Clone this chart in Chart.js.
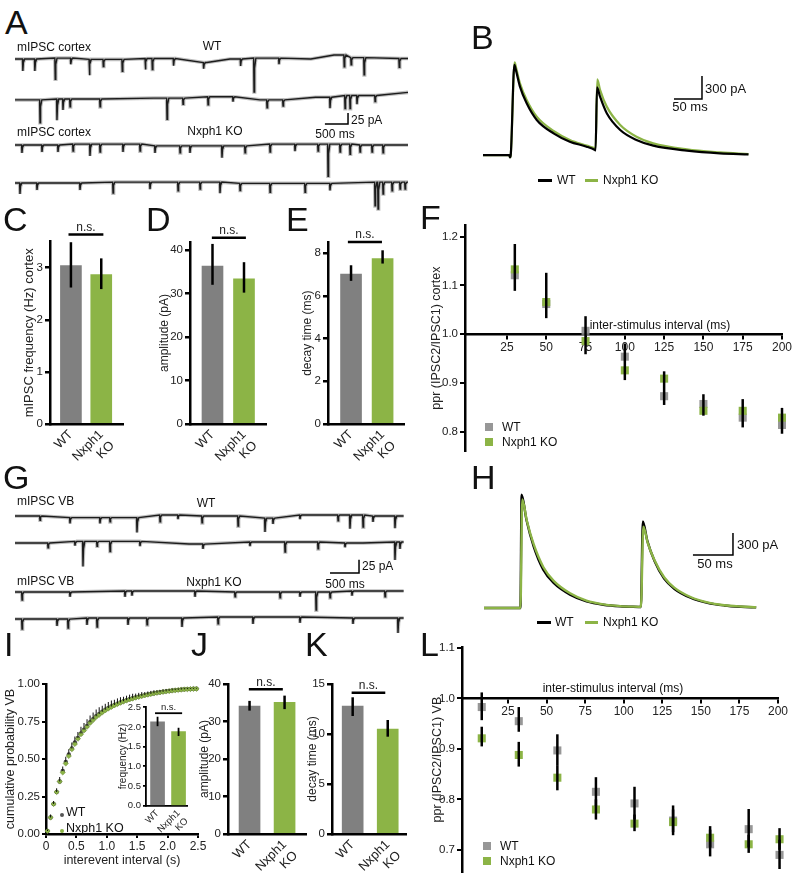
<!DOCTYPE html>
<html><head><meta charset="utf-8">
<script src="https://cdn.jsdelivr.net/npm/chart.js@4.4.1/dist/chart.umd.min.js"></script>
<style>
html,body{margin:0;padding:0;background:#fff;}
#fig{position:relative;width:793px;height:878px;overflow:hidden;background:#fff;font-family:"Liberation Sans",Arial,Helvetica,sans-serif;color:#111;}
.t{position:absolute;white-space:nowrap;}
canvas{position:absolute;}
.sw{position:absolute;}
</style></head><body><div id="fig"></div>
<script>
// ================= DATA =================
const groups = ['WT', 'Nxph1 KO'];

// A: mIPSC cortex traces. events: [time ms, amplitude pA]; drift: [time ms, baseline pA]
const A_WT1_events = [[170,27],[430,27],[870,48],[1210,14],[1610,36],[1910,16],[2320,27],[2820,25],[2970,25],[3430,16],[4080,14],[4880,16],[5170,77],[5710,14],[7120,27],[7270,16],[7550,39],[8310,20]];
const A_WT1_drift = [[0,0],[1200,2],[2000,-1],[3300,1],[4150,-8],[4650,0],[5500,2],[6400,0],[6900,9],[7400,3],[8500,1]];
const A_WT2_events = [[541,52],[908,48],[1038,25],[1190,18],[1839,18],[3288,48],[3634,14],[4175,18],[4715,11],[5451,18],[5797,14],[6813,25],[7138,30],[7246,30],[7397,20],[7787,14]];
const A_WT2_drift = [[0,-2],[1500,0],[3000,2],[4500,5],[5300,-2],[6500,4],[7500,8],[8500,15]];
const A_KO1_events = [[151,18],[584,16],[930,16],[1255,16],[1622,27],[1839,18],[2336,18],[2704,16],[3028,16],[3569,16],[3785,16],[4477,27],[4975,16],[5516,18],[6056,16],[6554,16],[6770,73],[7030,18],[7246,23],[7462,16],[7722,16],[7960,18]];
const A_KO1_drift = [[0,0],[2000,2],[4000,-2],[6000,2],[8500,0]];
const A_KO2_events = [[108,25],[476,16],[1406,16],[2120,25],[2920,16],[3526,20],[4002,16],[4434,25],[4867,16],[5516,20],[6273,20],[6813,16],[7787,54],[7852,61],[7960,27],[8155,20],[8328,16],[8436,16]];
const A_KO2_drift = [[0,0],[3000,2],[6000,-1],[8500,2]];

// B: evoked IPSC pair, cortex (time ms, current pA)
const B_time_WT = [0,47,48,49.5,56,59,66,78,96,126,155,185,200,201,203.6,209,221,245,274,304,364,423,474];
const B_WT      = [0,0,-30,0,1174,1100,892,674,457,283,174,109,65,60,883,760,544,326,196,122,57,22,9];
const B_time_KO = [0,47,48,49.5,56.5,59,66,78,96,126,155,185,200,201,204,209,221,245,274,304,364,423,474];
const B_KO      = [0,0,-30,0,1209,1140,935,718,500,313,196,122,87,82,987,850,631,392,239,152,74,35,13];

// C, D, E: cortex mIPSC properties (mean, SEM range)
const C_freq = [3.04, 2.87], C_lo = [2.62, 2.59], C_hi = [3.49, 3.18];
const D_amp  = [36.3, 33.4], D_lo = [32.0, 30.2], D_hi = [41.4, 37.2];
const E_decay= [7.02, 7.74], E_lo = [6.70, 7.51], E_hi = [7.43, 8.13];

// F: paired-pulse ratio, cortex
const F_isi = [30, 50, 75, 100, 125, 150, 175, 200];
const F_WT  = [1.121, 1.062, 1.007, 0.954, 0.873, 0.857, 0.829, 0.814];
const F_KO  = [1.133, 1.066, 0.986, 0.926, 0.909, 0.843, 0.843, 0.829];
const F_lo  = [1.089, 1.033, 0.959, 0.906, 0.855, 0.833, 0.809, 0.796];
const F_hi  = [1.185, 1.126, 1.037, 0.981, 0.924, 0.877, 0.867, 0.849];
const F_xticks = [25, 50, 75, 100, 125, 150, 175, 200];
const F_yticks = [0.8, 0.9, 1.0, 1.1, 1.2];

// G: mIPSC VB traces
const G_WT1_events = [[431,8],[948,11],[1465,11],[1638,8],[2103,28],[2500,13],[2810,8],[3224,13],[3845,19],[4310,26],[4448,11],[4913,8],[5569,11],[5775,26],[6000,23],[6172,11],[6551,23]];
const G_WT1_drift = [[0,0],[1750,-3],[2650,2],[3500,0],[4400,-4],[5400,2],[6700,0]];
const G_WT2_events = [[569,9],[1034,8],[1172,47],[1414,9],[1638,19],[2155,9],[3241,9],[4051,8],[4655,19],[5224,13],[5689,8],[6551,34],[6637,13]];
const G_WT2_drift = [[0,0],[1500,3],[3000,-2],[4500,2],[6000,0],[6700,2]];
const G_KO1_events = [[121,15],[948,9],[1896,11],[2017,9],[3103,11],[3793,9],[4569,11],[4913,9],[5190,34],[5431,11],[5810,9],[6379,11]];
const G_KO1_drift = [[0,0],[2400,2],[4200,0],[6700,2]];
const G_KO2_events = [[121,19],[724,13],[914,17],[1241,13],[1414,17],[1948,13],[2276,13],[2879,17],[3500,13],[4103,13],[4913,11],[5827,11],[6603,28]];
const G_KO2_drift = [[0,-2],[2100,0],[4000,2],[6700,0]];

// H: evoked IPSC pair, VB
const H_time_WT = [0,44,45.5,47,53,62,74,87,107.5,128,149,170,193,196,198.4,204,213,225,238,258,279,300,321,340];
const H_WT      = [0,0,0,1545,1204,841,523,341,182,91,45,23,14,13,1182,915,640,400,260,140,70,35,17,8];
const H_time_KO = [0,44,45.5,47.8,53.5,62,74,87,107.5,128,149,170,193,196,199,204.5,213,225,238,258,279,300,321,340];
const H_KO      = [0,0,0,1480,1190,870,560,370,200,100,50,26,16,15,1110,890,650,420,275,150,76,38,20,10];

// I: cumulative probability of interevent intervals, VB
const I_interval = [0.025,0.075,0.125,0.175,0.225,0.275,0.325,0.375,0.425,0.475,0.525,0.575,0.625,0.675,0.725,0.775,0.825,0.875,0.925,0.975,1.025,1.075,1.125,1.175,1.225,1.275,1.325,1.375,1.425,1.475,1.525,1.575,1.625,1.675,1.725,1.775,1.825,1.875,1.925,1.975,2.025,2.075,2.125,2.175,2.225,2.275,2.325,2.375,2.425,2.475];
const I_WT = [0.02,0.11,0.20,0.28,0.35,0.42,0.48,0.53,0.57,0.61,0.64,0.67,0.695,0.72,0.745,0.765,0.785,0.80,0.815,0.828,0.84,0.85,0.86,0.869,0.877,0.885,0.892,0.899,0.905,0.911,0.916,0.921,0.926,0.93,0.934,0.938,0.942,0.945,0.948,0.951,0.954,0.957,0.959,0.961,0.963,0.965,0.966,0.967,0.968,0.969];
const I_KO = [0.02,0.11,0.20,0.28,0.35,0.41,0.47,0.52,0.565,0.60,0.635,0.665,0.69,0.715,0.74,0.76,0.78,0.795,0.81,0.824,0.836,0.847,0.857,0.866,0.875,0.883,0.89,0.897,0.903,0.909,0.914,0.919,0.924,0.929,0.933,0.937,0.941,0.944,0.947,0.95,0.953,0.956,0.958,0.96,0.962,0.964,0.965,0.966,0.967,0.968];
const I_sem = [0.01,0.02,0.02,0.025,0.03,0.03,0.035,0.035,0.04,0.04,0.04,0.045,0.045,0.045,0.045,0.045,0.045,0.045,0.04,0.04,0.04,0.04,0.035,0.035,0.035,0.03,0.03,0.03,0.03,0.025,0.025,0.025,0.02,0.02,0.02,0.02,0.015,0.015,0.015,0.015,0.012,0.012,0.01,0.01,0.01,0.008,0.008,0.006,0.006,0.005];
const I_xticks = [0, 0.5, 1.0, 1.5, 2.0, 2.5];
const I_yticks = [0, 0.25, 0.5, 0.75, 1.0];
// I inset: frequency VB
const Iin_freq = [2.13, 1.88], Iin_lo = [2.02, 1.77], Iin_hi = [2.26, 1.98];

// J, K: VB amplitude and decay
const J_amp   = [34.1, 35.1], J_lo = [32.9, 33.3], J_hi = [35.5, 36.9];
const K_decay = [12.8, 10.5], K_lo = [11.8, 9.73], K_hi = [13.67, 11.4];

// L: paired-pulse ratio, VB
const L_isi = [8, 32, 57, 82, 107, 132, 156, 181, 201];
const L_WT  = [0.983, 0.955, 0.897, 0.815, 0.792, 0.758, 0.711, 0.741, 0.690];
const L_KO  = [0.921, 0.888, 0.843, 0.780, 0.752, 0.755, 0.724, 0.711, 0.721];
const L_WT_lo = [0.957, 0.934, 0.868, 0.787, 0.760, 0.735, 0.687, 0.705, 0.662];
const L_WT_hi = [1.012, 0.983, 0.929, 0.844, 0.825, 0.788, 0.740, 0.781, 0.720];
const L_KO_lo = [0.905, 0.865, 0.818, 0.760, 0.737, 0.729, 0.705, 0.694, 0.700];
const L_KO_hi = [0.944, 0.914, 0.868, 0.800, 0.770, 0.780, 0.747, 0.730, 0.743];
const L_xticks = [25, 50, 75, 100, 125, 150, 175, 200];
const L_yticks = [0.7, 0.8, 0.9, 1.0, 1.1];

// ================= RENDERING =================
const FONT = '"Liberation Sans", Arial, Helvetica, sans-serif';
Chart.defaults.font.family = FONT;
Chart.defaults.color = '#222';
const GRAY = '#808080', GREEN = '#8cb446', PTGRAY = 'rgba(140,140,140,0.9)', INK = '#1c1c1c';
const fig = document.getElementById('fig');

function canvas(l, t, w, h) {
  const c = document.createElement('canvas');
  c.width = w; c.height = h;
  c.style.left = l + 'px'; c.style.top = t + 'px';
  c.style.width = w + 'px'; c.style.height = h + 'px';
  fig.appendChild(c);
  return c;
}
function lab(s, x, yc, size, align, extra) {
  const d = document.createElement('div');
  d.className = 't';
  d.textContent = s;
  const lh = Math.round(size * 1.25);
  d.style.fontSize = size + 'px';
  d.style.lineHeight = lh + 'px';
  d.style.top = (yc - lh / 2) + 'px';
  d.style.left = x + 'px';
  if (align === 'c') d.style.transform = 'translateX(-50%)';
  if (extra) d.style.cssText += extra;
  fig.appendChild(d);
}
function letter(s, x, capTop) { lab(s, x, capTop + 0.37 * 34, 34); }
function swatch(l, t, w, h, color, round) {
  const d = document.createElement('div');
  d.className = 'sw';
  d.style.cssText = `left:${l}px;top:${t}px;width:${w}px;height:${h}px;background:${color};${round ? 'border-radius:50%;' : ''}`;
  fig.appendChild(d);
}

// plugins (closures)
function errBars(sets, width, color) {
  return { id: 'errBars', afterDatasetsDraw(c) {
    const X = c.scales.x, Y = c.scales.y, ctx = c.ctx;
    ctx.save(); ctx.strokeStyle = color || '#000'; ctx.lineWidth = width;
    for (const s of sets) s.xs.forEach((xv, i) => {
      const px = X.getPixelForValue(xv);
      ctx.beginPath(); ctx.moveTo(px, Y.getPixelForValue(s.lo[i])); ctx.lineTo(px, Y.getPixelForValue(s.hi[i])); ctx.stroke();
    });
    ctx.restore();
  } };
}
function nsMark(x1, x2, yv, size, lw) {
  return { id: 'ns', afterDraw(c) {
    const X = c.scales.x, Y = c.scales.y, ctx = c.ctx;
    const py = Y.getPixelForValue(yv), a = X.getPixelForValue(x1), b = X.getPixelForValue(x2);
    ctx.save(); ctx.strokeStyle = '#000'; ctx.lineWidth = lw;
    ctx.beginPath(); ctx.moveTo(a, py); ctx.lineTo(b, py); ctx.stroke();
    ctx.fillStyle = '#222'; ctx.font = size + 'px ' + FONT; ctx.textAlign = 'center'; ctx.textBaseline = 'alphabetic';
    ctx.fillText('n.s.', (a + b) / 2, py - lw / 2 - 2.5);
    ctx.restore();
  } };
}
function scaleBar(x0, y0, dx, dy, lw) {
  return { id: 'sb', afterDraw(c) {
    const X = c.scales.x, Y = c.scales.y, ctx = c.ctx;
    ctx.save(); ctx.strokeStyle = '#000'; ctx.lineWidth = lw || 1.5;
    ctx.beginPath();
    ctx.moveTo(X.getPixelForValue(x0 - dx), Y.getPixelForValue(y0));
    ctx.lineTo(X.getPixelForValue(x0), Y.getPixelForValue(y0));
    ctx.lineTo(X.getPixelForValue(x0), Y.getPixelForValue(y0 + dy));
    ctx.stroke(); ctx.restore();
  } };
}

const baseOpts = () => ({ responsive: false, animation: false, devicePixelRatio: 1, events: [],
  plugins: { legend: { display: false }, tooltip: { enabled: false }, title: { display: false } } });

// ---- trace charts ----
function nearestBase(drift, t) {
  let best = drift[0];
  for (const d of drift) if (Math.abs(d[0] - t) < Math.abs(best[0] - t)) best = d;
  return best[1];
}
function tracePoints(events, drift, rise, decay) {
  const pts = drift.map(d => ({ x: d[0], y: d[1] }));
  for (const [t, a] of events) {
    const b = nearestBase(drift, t);
    pts.push({ x: t - rise, y: b }, { x: t, y: b - a }, { x: t + decay * 0.3, y: b - a * 0.3 }, { x: t + decay, y: b });
  }
  return pts.sort((p, q) => p.x - q.x);
}
function traceChart(l, t, w, h, xr, yr, datasets, plugins) {
  const o = baseOpts();
  o.layout = { padding: 0 };
  o.scales = { x: { type: 'linear', display: false, min: xr[0], max: xr[1] }, y: { display: false, min: yr[0], max: yr[1] } };
  o.elements = { point: { radius: 0 } };
  return new Chart(canvas(l, t, w, h), { type: 'line', data: { datasets }, options: o, plugins: plugins || [] });
}
// each raw trace: a soft grey band (noise envelope look) under a dark line
function rawTrace(events, drift, rise, decay) {
  const pts = tracePoints(events, drift, rise, decay);
  return [
    { data: pts, borderColor: INK, borderWidth: 1.4, tension: 0, fill: false, order: 0 },
    { data: pts, borderColor: 'rgba(70,70,70,0.35)', borderWidth: 3.6, tension: 0, fill: false, order: 1 }
  ];
}
function pair(times, vals) { return times.map((x, i) => ({ x, y: vals[i] })); }

// A traces
const A_X = [-43, 8565], A_Y = [-86.3, 27.2];
traceChart(13, 47, 398, 50, A_X, A_Y, rawTrace(A_WT1_events, A_WT1_drift, 8, 40));
traceChart(13, 87, 398, 50, A_X, A_Y, rawTrace(A_WT2_events, A_WT2_drift, 8, 40), [scaleBar(7203, -57, 500, 25, 1.5)]);
traceChart(13, 133, 398, 50, A_X, A_Y, rawTrace(A_KO1_events, A_KO1_drift, 8, 40));
traceChart(13, 171, 398, 50, A_X, A_Y, rawTrace(A_KO2_events, A_KO2_drift, 8, 40));

// G traces
const G_X = [-34.5, 6741], G_Y = [-75.2, 18.8];
traceChart(13, 506, 393, 50, G_X, G_Y, rawTrace(G_WT1_events, G_WT1_drift, 7, 32));
traceChart(13, 533, 393, 50, G_X, G_Y, rawTrace(G_WT2_events, G_WT2_drift, 7, 32), [scaleBar(5931, -56.4, 500, 25, 1.5)]);
traceChart(13, 582, 393, 50, G_X, G_Y, rawTrace(G_KO1_events, G_KO1_drift, 7, 32));
traceChart(13, 608, 393, 50, G_X, G_Y, rawTrace(G_KO2_events, G_KO2_drift, 7, 32));

// B
traceChart(478, 55, 280, 110, [-8.9, 491], [-130, 1304], [
  { data: pair(B_time_WT, B_WT), borderColor: '#000', borderWidth: 2.2, cubicInterpolationMode: 'monotone', fill: false, order: 0 },
  { data: pair(B_time_KO, B_KO), borderColor: GREEN, borderWidth: 2.2, cubicInterpolationMode: 'monotone', fill: false, order: 1 }
], [scaleBar(391, 730, 50, 300, 1.5)]);
// H
traceChart(479, 485, 282, 130, [-6.25, 346], [-95.5, 1678], [
  { data: pair(H_time_KO, H_KO), borderColor: GREEN, borderWidth: 2.4, cubicInterpolationMode: 'monotone', fill: false, order: 0 },
  { data: pair(H_time_WT, H_WT), borderColor: '#000', borderWidth: 2.4, cubicInterpolationMode: 'monotone', fill: false, order: 1 }
], [scaleBar(311, 723, 50, 300, 1.5)]);

// ---- bar charts ----
function barChart(p) {
  const o = baseOpts();
  const bw = p.bw || 2.5;
  o.layout = { padding: { top: p.padTop, left: 0, right: 0, bottom: 0 } };
  o.scales = {
    x: { type: 'linear', offset: false, min: p.xmin, max: p.xmax,
      afterBuildTicks: s => { s.ticks = [{ value: 1 }, { value: 2 }]; },
      afterFit: s => { s.height = p.xH; s.paddingLeft = 0; s.paddingRight = 0; },
      border: { display: true, color: '#000', width: bw },
      grid: { display: false, drawTicks: false, offset: false },
      ticks: { autoSkip: false, minRotation: 45, maxRotation: 45, padding: p.xPad || 3, font: { size: p.xFont }, color: '#222',
        callback: v => groups[Math.round(v) - 1].split(' ') } },
    y: { min: 0, max: p.ymax,
      afterBuildTicks: s => { s.ticks = p.yticks.map(v => ({ value: v })); },
      afterFit: s => { s.width = p.axisW; s.paddingTop = 0; s.paddingBottom = 0; },
      border: { display: true, color: '#000', width: bw },
      grid: { display: true, drawOnChartArea: false, drawTicks: true, tickLength: p.tl || 5, color: '#000', lineWidth: bw },
      ticks: { padding: 2, font: { size: p.yFont }, color: '#222', callback: p.fmt },
      title: { display: true, text: p.title, font: { size: p.tFont }, color: '#222', padding: { top: 4, bottom: 0 } } }
  };
  return new Chart(canvas(p.left, p.top, p.w, p.h), {
    type: 'bar',
    data: { datasets: [{ data: p.values.map((v, i) => ({ x: i + 1, y: v })), backgroundColor: [GRAY, GREEN], borderWidth: 0, barThickness: p.barW }] },
    options: o,
    plugins: [errBars([{ xs: [1, 2], lo: p.lo, hi: p.hi }], p.ew || 2.5), nsMark(p.ns[0], p.ns[1], p.ns[2], p.nsFont || 12, p.nsW || 2.5)]
  });
}
const int = v => String(v);
barChart({ left: 18, top: 215, w: 106, h: 250, padTop: 26.7, xH: 41, axisW: 32, ymax: 3.5, yticks: [0, 1, 2, 3], xmin: 0.31, xmax: 2.75, barW: 21,
  values: C_freq, lo: C_lo, hi: C_hi, ns: [0.92, 2.07, 3.64], title: 'mIPSC frequency (Hz) cortex', tFont: 13, yFont: 11.5, xFont: 13, fmt: int });
barChart({ left: 153, top: 215, w: 114, h: 250, padTop: 27, xH: 41, axisW: 37, ymax: 41.84, yticks: [0, 10, 20, 30, 40], xmin: 0.286, xmax: 2.73, barW: 21,
  values: D_amp, lo: D_lo, hi: D_hi, ns: [0.98, 2.06, 42.83], title: 'amplitude (pA)', tFont: 12, yFont: 11.5, xFont: 13, fmt: int });
barChart({ left: 296, top: 215, w: 109, h: 250, padTop: 27.4, xH: 41, axisW: 32, ymax: 8.5, yticks: [0, 2, 4, 6, 8], xmin: 0.27, xmax: 2.71, barW: 21,
  values: E_decay, lo: E_lo, hi: E_hi, ns: [0.9, 1.98, 8.52], title: 'decay time (ms)', tFont: 12, yFont: 11.5, xFont: 13, fmt: int });
barChart({ left: 193, top: 665, w: 114, h: 213, padTop: 19, xH: 44, axisW: 35, ymax: 40, yticks: [0, 10, 20, 30, 40], xmin: 0.385, xmax: 2.64, barW: 21,
  values: J_amp, lo: J_lo, hi: J_hi, ns: [0.98, 1.95, 38.6], title: 'amplitude (pA)', tFont: 12, yFont: 11.5, xFont: 13, fmt: int });
barChart({ left: 301, top: 665, w: 106, h: 213, padTop: 19, xH: 44, axisW: 31, ymax: 15, yticks: [0, 5, 10, 15], xmin: 0.41, xmax: 2.55, barW: 21,
  values: K_decay, lo: K_lo, hi: K_hi, ns: [0.97, 1.93, 14.13], title: 'decay time (ms)', tFont: 12, yFont: 11.5, xFont: 13, fmt: int });

// ---- ppr charts (F, L) ----
function pprChart(p) {
  const o = baseOpts();
  o.layout = { padding: { top: p.padTop, right: p.padRight, left: 0, bottom: 0 } };
  o.scales = {
    x: { type: 'linear', position: { y: 1 }, min: p.xmin, max: 200,
      afterBuildTicks: s => { s.ticks = p.xticks.map(v => ({ value: v })); },
      afterFit: s => { s.paddingLeft = 0; s.paddingRight = 0; },
      border: { display: true, color: '#000', width: 2.5 },
      grid: { display: true, drawOnChartArea: false, drawTicks: true, tickLength: 4, color: '#000', lineWidth: 2 },
      ticks: { padding: 2, font: { size: 12 }, color: '#222', maxRotation: 0, autoSkip: false } },
    y: { min: p.ymin, max: p.ymax,
      afterBuildTicks: s => { s.ticks = p.yticks.map(v => ({ value: v })); },
      afterFit: s => { s.width = p.axisW; s.paddingTop = 0; s.paddingBottom = 0; },
      border: { display: true, color: '#000', width: 2.5 },
      grid: { display: true, drawOnChartArea: false, drawTicks: true, tickLength: 5, color: '#000', lineWidth: 2 },
      ticks: { padding: 2, font: { size: 11.5 }, color: '#222', callback: v => Number(v).toFixed(1) },
      title: { display: true, text: p.title, font: { size: 12.5 }, color: '#222', padding: { top: 4, bottom: 0 } } }
  };
  return new Chart(canvas(p.left, p.top, p.w, p.h), {
    type: 'scatter',
    data: { datasets: [
      { label: groups[1], data: pair(p.xs, p.ko), pointStyle: 'rect', pointRadius: 5.7, backgroundColor: GREEN, borderWidth: 0, order: 0, clip: false },
      { label: groups[0], data: pair(p.xs, p.wt), pointStyle: 'rect', pointRadius: 5.7, backgroundColor: PTGRAY, borderWidth: 0, order: 1, clip: false }
    ] },
    options: o,
    plugins: [errBars(p.err, 2.5)]
  });
}
pprChart({ left: 425, top: 200, w: 368, h: 257, padTop: 25, padRight: 11, axisW: 40, ymin: 0.76, ymax: 1.224, xmin: -1.7,
  xs: F_isi, wt: F_WT, ko: F_KO, err: [{ xs: F_isi, lo: F_lo, hi: F_hi }], xticks: F_xticks, yticks: F_yticks, title: 'ppr (IPSC2/IPSC1) cortex' });
pprChart({ left: 426, top: 620, w: 367, h: 258, padTop: 27, padRight: 15, axisW: 36, ymin: 0.6555, ymax: 1.102, xmin: -4.8,
  xs: L_isi, wt: L_WT, ko: L_KO, err: [{ xs: L_isi, lo: L_WT_lo, hi: L_WT_hi }, { xs: L_isi, lo: L_KO_lo, hi: L_KO_hi }], xticks: L_xticks, yticks: L_yticks, title: 'ppr (IPSC2/IPSC1) VB' });

// ---- I: cumulative probability ----
(function () {
  const o = baseOpts();
  o.layout = { padding: { top: 19, right: 17, left: 0, bottom: 0 } };
  o.scales = {
    x: { type: 'linear', min: 0, max: 2.5,
      afterBuildTicks: s => { s.ticks = I_xticks.map(v => ({ value: v })); },
      afterFit: s => { s.height = 36; s.paddingLeft = 0; s.paddingRight = 0; },
      border: { display: true, color: '#000', width: 2.5 },
      grid: { display: true, drawOnChartArea: false, drawTicks: true, tickLength: 4, color: '#000', lineWidth: 2 },
      ticks: { padding: 1, font: { size: 12 }, color: '#222', maxRotation: 0, autoSkip: false, callback: v => v === 0 ? '0' : Number(v).toFixed(1) },
      title: { display: true, text: 'interevent interval (s)', font: { size: 12.5 }, color: '#222', padding: { top: 0, bottom: 2 } } },
    y: { min: 0, max: 1,
      afterBuildTicks: s => { s.ticks = I_yticks.map(v => ({ value: v })); },
      afterFit: s => { s.width = 46; s.paddingTop = 0; s.paddingBottom = 0; },
      border: { display: true, color: '#000', width: 2.5 },
      grid: { display: true, drawOnChartArea: false, drawTicks: true, tickLength: 4, color: '#000', lineWidth: 2 },
      ticks: { padding: 2, font: { size: 11.5 }, color: '#222', callback: v => Number(v).toFixed(2) },
      title: { display: true, text: 'cumulative probability VB', font: { size: 12.5 }, color: '#222', padding: { top: 3, bottom: 0 } } }
  };
  new Chart(canvas(0, 665, 215, 205), {
    type: 'scatter',
    data: { datasets: [
      { label: groups[1], data: pair(I_interval, I_KO), pointStyle: 'rectRot', pointRadius: 2.6, backgroundColor: GREEN, borderColor: '#6f8f3a', borderWidth: 0.6, order: 0, clip: false },
      { label: groups[0], data: pair(I_interval, I_WT), pointStyle: 'circle', pointRadius: 2.2, backgroundColor: '#444', borderWidth: 0, order: 1, clip: false }
    ] },
    options: o,
    plugins: [errBars([{ xs: I_interval, lo: I_WT, hi: I_WT.map((v, i) => v + I_sem[i]) }], 1, '#111')]
  });
})();
// I inset
barChart({ left: 113, top: 697, w: 75, h: 140, padTop: 10.3, xH: 31.3, axisW: 33, ymax: 2.5, yticks: [0, 0.5, 1, 1.5, 2, 2.5], xmin: 0.45, xmax: 2.45, barW: 14,
  values: Iin_freq, lo: Iin_lo, hi: Iin_hi, ns: [0.88, 2.17, 2.35], title: 'frequency (Hz)', tFont: 10, yFont: 9.5, xFont: 9.5, xPad: 2,
  fmt: v => Number(v).toFixed(1), bw: 1.8, tl: 3, ew: 1.8, nsFont: 9.5, nsW: 1.8 });

// ================= TEXT / LEGENDS =================
letter('A', 5, 10); letter('B', 471, 25); letter('C', 3, 207); letter('D', 146, 207); letter('E', 286, 207);
letter('F', 420, 205); letter('G', 3, 465); letter('H', 471, 465); letter('I', 4, 632); letter('J', 191, 632);
letter('K', 305, 632); letter('L', 420, 632);

lab('mIPSC cortex', 17, 47, 12); lab('WT', 212, 46, 12, 'c');
lab('mIPSC cortex', 17, 132, 12); lab('Nxph1 KO', 215, 131, 12, 'c');
lab('25 pA', 351, 120, 12); lab('500 ms', 335, 134, 12, 'c');

lab('mIPSC VB', 17, 501, 12); lab('WT', 206, 503, 12, 'c');
lab('25 pA', 362, 566, 12); lab('500 ms', 345, 584, 12, 'c');
lab('mIPSC VB', 17, 581, 12); lab('Nxph1 KO', 214, 582, 12, 'c');

lab('300 pA', 705, 89, 13); lab('50 ms', 690, 107, 13, 'c');
swatch(538, 179, 14, 2.5, '#000'); lab('WT', 557, 180, 12);
swatch(585, 179, 13, 2.5, GREEN); lab('Nxph1 KO', 603, 180, 12);

lab('300 pA', 737, 545, 13); lab('50 ms', 715, 564, 13, 'c');
swatch(537, 621, 14, 2.5, '#000'); lab('WT', 555, 622, 12);
swatch(585, 621, 13, 2.5, GREEN); lab('Nxph1 KO', 603, 622, 12);

lab('inter-stimulus interval (ms)', 660, 325.5, 12, 'c');
swatch(485, 423, 8, 8, PTGRAY); lab('WT', 502, 427, 12);
swatch(485, 438, 8, 8, GREEN); lab('Nxph1 KO', 502, 442, 12);

lab('inter-stimulus interval (ms)', 613, 688, 12, 'c');
swatch(483, 842, 8, 8, PTGRAY); lab('WT', 500, 846, 12);
swatch(483, 857, 8, 8, GREEN); lab('Nxph1 KO', 500, 861, 12);

swatch(60, 813, 4, 4, '#555', true); lab('WT', 66, 812, 12.5);
swatch(60, 829, 4, 4, GREEN, true); lab('Nxph1 KO', 66, 828, 12.5);
</script></body></html>
